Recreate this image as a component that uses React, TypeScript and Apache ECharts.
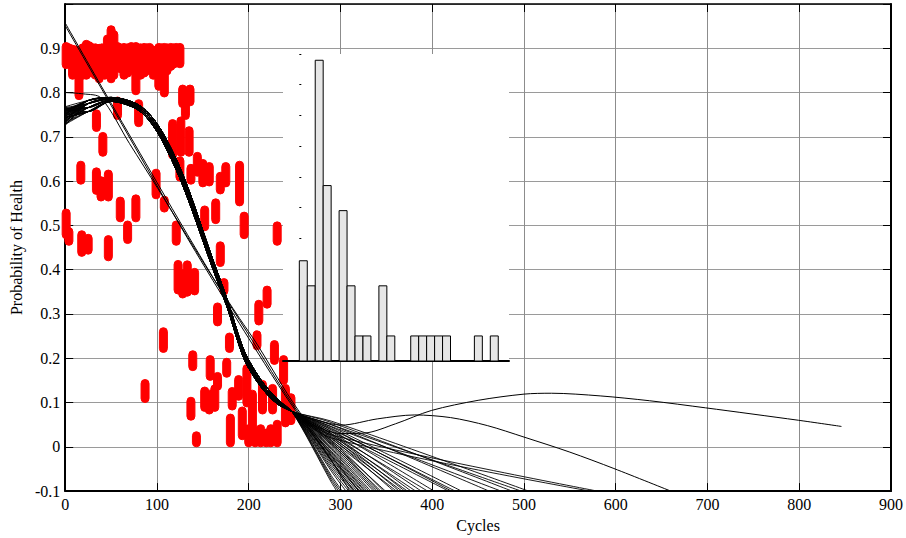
import React, { useEffect, useRef } from "react";
import * as echarts from "echarts";

// ---------- data ----------
const xMin = 0, xMax = 900, xStep = 100;
const yMin = -0.1, yMax = 1.0, yStep = 0.1;

// red observation clusters: [cycle, low, high]
const redClusters: number[][] = [
  // upper band
  [1, 0.854, 0.913], [4, 0.86, 0.91], [8, 0.83, 0.907], [11, 0.84, 0.905], [15, 0.784, 0.896],
  [19, 0.83, 0.91], [23, 0.83, 0.918], [26, 0.84, 0.915], [29, 0.835, 0.911], [33, 0.83, 0.91],
  [37, 0.822, 0.909], [40, 0.835, 0.91], [43, 0.83, 0.907], [46, 0.84, 0.93], [50, 0.822, 0.951],
  [53, 0.83, 0.94], [57, 0.858, 0.913], [60, 0.845, 0.91], [64, 0.83, 0.911], [68, 0.835, 0.91],
  [72, 0.843, 0.913], [75, 0.84, 0.91], [77, 0.795, 0.913], [82, 0.83, 0.91], [86, 0.835, 0.911],
  [89, 0.84, 0.91], [92, 0.845, 0.911], [96, 0.83, 0.905], [102, 0.805, 0.911], [105, 0.82, 0.91],
  [108, 0.79, 0.911], [111, 0.84, 0.91], [115, 0.85, 0.911], [118, 0.855, 0.91], [121, 0.862, 0.911],
  [125, 0.856, 0.911],
  // 0.65 - 0.82
  [34, 0.712, 0.761], [41, 0.656, 0.71], [57, 0.739, 0.79], [80, 0.723, 0.784], [117, 0.65, 0.739],
  [126, 0.656, 0.745], [128, 0.766, 0.817], [131, 0.739, 0.8], [136, 0.77, 0.817], [135, 0.656, 0.723],
  // 0.5 - 0.67
  [17, 0.593, 0.645], [34, 0.57, 0.63], [39, 0.555, 0.61], [47, 0.555, 0.625], [60, 0.508, 0.564],
  [77, 0.508, 0.569], [99, 0.56, 0.627], [108, 0.53, 0.566], [125, 0.6, 0.655], [137, 0.593, 0.638],
  [144, 0.611, 0.665], [150, 0.587, 0.649], [157, 0.589, 0.642], [169, 0.571, 0.62], [175, 0.587, 0.642],
  [190, 0.544, 0.645],
  // 0.4 - 0.54
  [1, 0.47, 0.537], [4, 0.455, 0.495], [18, 0.43, 0.488], [25, 0.435, 0.48], [47, 0.42, 0.477],
  [68, 0.459, 0.51], [121, 0.455, 0.51], [152, 0.488, 0.544], [164, 0.504, 0.56], [169, 0.407, 0.463],
  [195, 0.47, 0.53], [231, 0.455, 0.508],
  // 0.27 - 0.42
  [123, 0.345, 0.421], [128, 0.336, 0.4], [133, 0.34, 0.42], [141, 0.343, 0.403], [173, 0.343, 0.38],
  [166, 0.273, 0.325], [211, 0.275, 0.331], [220, 0.313, 0.363],
  // 0.14 - 0.27
  [107, 0.213, 0.269], [179, 0.213, 0.257], [209, 0.219, 0.262], [228, 0.186, 0.24], [139, 0.172, 0.217],
  [158, 0.15, 0.206], [176, 0.157, 0.2], [238, 0.141, 0.206], [198, 0.09, 0.186],
  // 0 - 0.17
  [87, 0.1, 0.152], [137, 0.06, 0.112], [143, 0.0, 0.034], [152, 0.08, 0.135], [157, 0.074, 0.128],
  [163, 0.08, 0.14], [166, 0.128, 0.168], [182, 0.083, 0.134], [189, 0.105, 0.161], [180, 0.0, 0.074],
  [193, 0.016, 0.09], [204, 0.029, 0.128], [200, 0.0, 0.05], [207, 0.0, 0.045], [213, 0.0, 0.05],
  [219, 0.0, 0.04], [224, 0.0, 0.05], [215, 0.074, 0.15], [226, 0.074, 0.141], [231, 0.0, 0.06],
  [240, 0.045, 0.141], [246, 0.05, 0.12],
];

// fitted health curves: shared sigmoid bundle (4 close variants)
const bundleCycles = [25, 50, 80, 100, 120, 135, 160, 177, 195, 213, 231, 247];
const bundleA = [0.782, 0.789, 0.772, 0.73, 0.654, 0.578, 0.428, 0.33, 0.217, 0.152, 0.108, 0.08];
const bundleB = [0.775, 0.786, 0.768, 0.724, 0.646, 0.569, 0.421, 0.324, 0.21, 0.146, 0.104, 0.08];
const bundleC = [0.766, 0.783, 0.764, 0.718, 0.638, 0.561, 0.414, 0.318, 0.204, 0.141, 0.1, 0.08];
const bundleD = [0.757, 0.78, 0.76, 0.712, 0.63, 0.553, 0.407, 0.312, 0.198, 0.136, 0.097, 0.08];
const bundles = [bundleA, bundleB, bundleC, bundleD];

// per curve: value at cycle 0, value at cycle 290, cycle where it reaches -0.1
const curveStart = [
  0.768, 0.742, 0.755, 0.731, 0.76, 0.748, 0.737, 0.764, 0.751, 0.726, 0.758, 0.744,
  0.733, 0.762, 0.747, 0.753, 0.739, 0.766, 0.729, 0.756, 0.745, 0.761, 0.735, 0.75,
  0.757, 0.741, 0.763, 0.728, 0.754, 0.746, 0.738, 0.765, 0.749, 0.732, 0.759, 0.743,
  0.752, 0.736, 0.767, 0.745, 0.757, 0.74, 0.762, 0.734, 0.75, 0.727, 0.758, 0.744,
];
const curveMid290 = [
  -0.08, -0.075, -0.07, -0.065, -0.055, -0.05, -0.045, -0.04, -0.036, -0.032, -0.028, -0.025,
  -0.022, -0.018, -0.015, -0.012, -0.01, -0.006, -0.003, 0.0, 0.004, 0.008, 0.012, 0.006,
  0.015, 0.01, 0.02, 0.014, 0.024, 0.018, 0.028, 0.022, 0.03, 0.026, 0.034, 0.03,
  0.038, 0.035, 0.042, 0.04, 0.045, 0.05, 0.046, 0.055, 0.05, 0.058, 0.02, 0.027,
];
const curveEnd = [
  296, 298, 300, 302, 306, 309, 312, 314, 316, 318, 320, 321,
  323, 324, 326, 327, 329, 331, 333, 336, 338, 340, 342, 344,
  347, 349, 358, 361, 364, 367, 370, 373, 377, 382, 388, 395,
  402, 418, 421, 425, 432, 462, 475, 487, 497, 505, 572, 580,
];

// special curves
const risingCurve = [
  [0, 0.74], [25, 0.776], [50, 0.786], [80, 0.768], [100, 0.724], [120, 0.646], [135, 0.569],
  [160, 0.421], [177, 0.324], [195, 0.21], [213, 0.146], [231, 0.104], [247, 0.08],
  [275, 0.045], [300, 0.03], [326, 0.031], [360, 0.052], [399, 0.082], [450, 0.105], [500, 0.119],
  [530, 0.121], [583, 0.115], [637, 0.104], [698, 0.088], [799, 0.06], [846, 0.046],
];
const humpCurve = [
  [0, 0.752], [25, 0.775], [50, 0.786], [80, 0.768], [100, 0.724], [120, 0.646], [135, 0.569],
  [160, 0.421], [177, 0.324], [195, 0.21], [213, 0.146], [231, 0.104], [247, 0.08],
  [275, 0.06], [301, 0.049], [340, 0.063], [381, 0.072], [420, 0.066], [460, 0.048], [500, 0.022],
  [550, -0.012], [598, -0.049], [660, -0.1],
];
const straightLineA = [
  [0, 0.957], [50, 0.776], [100, 0.597], [133, 0.48], [170, 0.352], [210, 0.22], [240, 0.12],
  [260, 0.06], [290, -0.03], [310, -0.1],
];
const straightLineB = [
  [0, 0.951], [50, 0.771], [100, 0.59], [133, 0.472], [170, 0.345], [210, 0.212], [240, 0.115],
  [262, 0.05], [300, -0.06], [315, -0.1],
];
const thinLine = [
  [0, 0.8], [20, 0.797], [39, 0.788], [70, 0.685], [101, 0.583], [133, 0.475], [160, 0.385],
  [190, 0.29], [209, 0.232], [242, 0.12], [265, 0.05], [290, -0.02], [320, -0.1],
];

// inset histogram (counts per bin)
const histCounts = [4, 3, 12, 7, 0, 6, 3, 1, 1, 0, 3, 1, 0, 0, 1, 1, 1, 1, 1, 0, 0, 0, 1, 0, 1];
const histMin = -2.05, histMax = 26.35;
const histYMax = 12.25, histYStep = 1.225;

// ---------- chart ----------
const FONT = "'Liberation Serif', 'Times New Roman', serif";

export default function App() {
  const ref = useRef<HTMLDivElement>(null);

  useEffect(() => {
    if (!ref.current) return;
    const chart = echarts.init(ref.current, undefined, { renderer: "svg" });

    const lineSeries: any[] = [];

    curveEnd.forEach((end, i) => {
      const b = bundles[i % 4];
      const pts: number[][] = [[0, curveStart[i]]];
      bundleCycles.forEach((c, k) => pts.push([c, b[k]]));
      pts.push([290, curveMid290[i]]);
      pts.push([end, -0.1]);
      lineSeries.push({
        type: "line", data: pts, showSymbol: false, smooth: 0.3, silent: true,
        lineStyle: { color: "#000", width: 0.9 }, z: 4, xAxisIndex: 0, yAxisIndex: 0,
      });
    });
    [risingCurve, humpCurve, straightLineA, straightLineB, thinLine].forEach((d) => {
      lineSeries.push({
        type: "line", data: d, showSymbol: false, smooth: 0.3, silent: true,
        lineStyle: { color: "#000", width: 1 }, z: 4, xAxisIndex: 0, yAxisIndex: 0,
      });
    });

    const histData = histCounts.map((n, i) => [i, n]).filter((d) => d[1] > 0);

    const option: any = {
      animation: false,
      backgroundColor: "#fff",
      grid: [
        { left: 62, right: 14, top: 4, bottom: 43 },
        { left: 283, top: 54, width: 226, height: 307, show: true, backgroundColor: "#fff", borderWidth: 0, z: 1 },
      ],
      xAxis: [
        {
          gridIndex: 0, type: "value", min: xMin, max: xMax, interval: xStep, position: "bottom",
          axisLine: { onZero: false, lineStyle: { color: "#000", width: 2 } },
          axisTick: { inside: true, length: 8, lineStyle: { color: "#000", width: 1 } },
          axisLabel: { fontFamily: FONT, fontSize: 16, color: "#000", margin: 5 },
          splitLine: { show: true, lineStyle: { color: "#8c8c8c", width: 1 } },
          name: "Cycles", nameLocation: "middle", nameGap: 21,
          nameTextStyle: { fontFamily: FONT, fontSize: 16, color: "#000" },
        },
        {
          gridIndex: 0, type: "value", min: xMin, max: xMax, interval: xStep, position: "top",
          axisLine: { onZero: false, lineStyle: { color: "#000", width: 1.5 } },
          axisTick: { inside: true, length: 8, lineStyle: { color: "#000", width: 1 } },
          axisLabel: { show: false }, splitLine: { show: false },
        },
        {
          gridIndex: 1, type: "value", min: histMin, max: histMax, z: 3,
          axisLine: { onZero: false, lineStyle: { color: "#000", width: 2 } },
          axisTick: { show: false }, axisLabel: { show: false }, splitLine: { show: false },
        },
      ],
      yAxis: [
        {
          gridIndex: 0, type: "value", min: yMin, max: yMax, interval: yStep, position: "left",
          axisLine: { onZero: false, lineStyle: { color: "#000", width: 2 } },
          axisTick: { inside: true, length: 8, lineStyle: { color: "#000", width: 1 } },
          axisLabel: {
            fontFamily: FONT, fontSize: 16, color: "#000", margin: 5,
            formatter: (v: number) => (v > 0.95 ? "" : Math.abs(v) < 1e-9 ? "0" : String(Math.round(v * 10) / 10)),
          },
          splitLine: { show: true, lineStyle: { color: "#9a9a9a", width: 1 } },
          name: "Probability of Health", nameLocation: "middle", nameGap: 36,
          nameTextStyle: { fontFamily: FONT, fontSize: 16, color: "#000" },
        },
        {
          gridIndex: 0, type: "value", min: yMin, max: yMax, interval: yStep, position: "right",
          axisLine: { onZero: false, lineStyle: { color: "#000", width: 2 } },
          axisTick: { inside: true, length: 8, lineStyle: { color: "#000", width: 1 } },
          axisLabel: { show: false }, splitLine: { show: false },
        },
        {
          gridIndex: 1, type: "value", min: 0, max: histYMax, interval: histYStep, z: 3,
          axisLine: { show: false },
          axisTick: { show: true, inside: true, length: 2, lineStyle: { color: "#000", width: 1 } },
          axisLabel: { show: false }, splitLine: { show: false },
        },
      ],
      series: [
        {
          type: "custom", xAxisIndex: 0, yAxisIndex: 0, z: 2, silent: true,
          data: redClusters,
          encode: { x: 0, y: [1, 2] },
          renderItem: (params: any, api: any) => {
            const c = api.value(0), lo = api.value(1), hi = api.value(2);
            const t = api.coord([c, hi]);
            const b = api.coord([c, lo]);
            const w = 8;
            const h = Math.max(b[1] - t[1], w);
            return {
              type: "rect",
              shape: { x: t[0] - w / 2, y: t[1], width: w, height: h, r: w / 2 },
              style: { fill: "#ff0000", stroke: "#ff0000", lineWidth: 1 },
            };
          },
        },
        ...lineSeries,
        {
          type: "custom", xAxisIndex: 2, yAxisIndex: 2, z: 5, silent: true,
          data: histData,
          encode: { x: 0, y: 1 },
          renderItem: (params: any, api: any) => {
            const i = api.value(0), n = api.value(1);
            const p0 = api.coord([i, n]);
            const p1 = api.coord([i + 1, 0]);
            return {
              type: "rect",
              shape: { x: p0[0], y: p0[1], width: p1[0] - p0[0], height: p1[1] - p0[1] },
              style: { fill: "#e6e6e6", stroke: "#000", lineWidth: 1 },
            };
          },
        },
      ],
    };

    chart.setOption(option);
    return () => chart.dispose();
  }, []);

  return (
    <div
      ref={ref}
      style={{ position: "fixed", left: 0, top: 0, width: 906, height: 538, background: "#fff" }}
    />
  );
}
